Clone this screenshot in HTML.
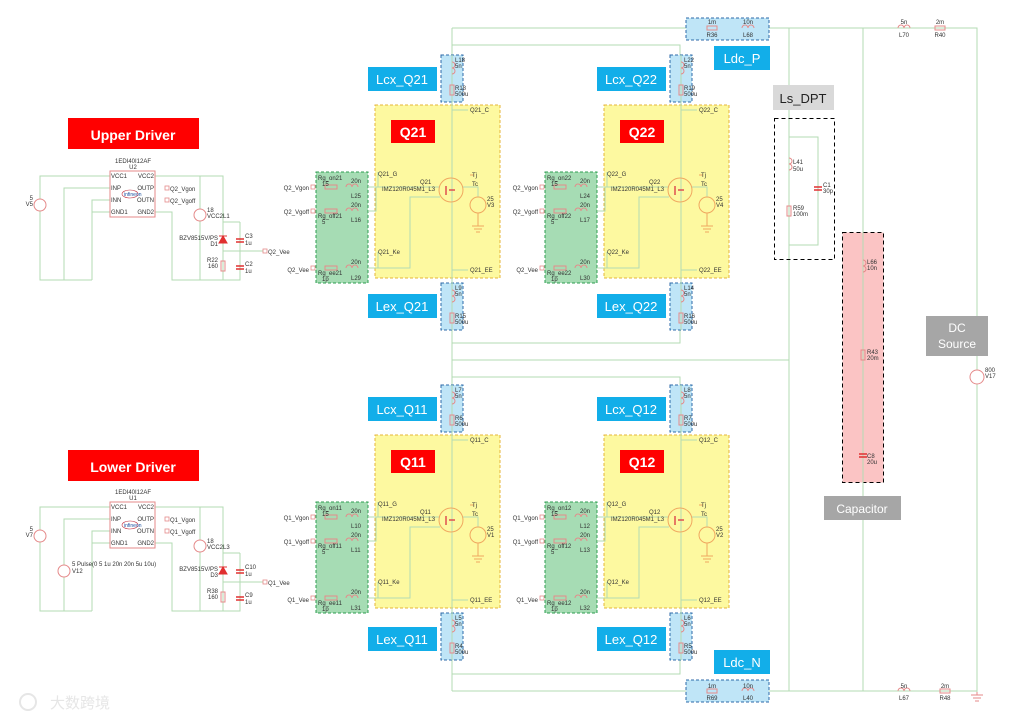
<!DOCTYPE html>
<html><head><meta charset="utf-8"><style>
html,body{margin:0;padding:0;background:#fff;}
svg{display:block;font-family:"Liberation Sans",sans-serif;}
.t{font-size:6px;fill:#333;}
.w{stroke:#b3dbb3;stroke-width:1;fill:none;}
.c{stroke:#e58a8a;stroke-width:1;fill:none;}
.lb{font-size:13px;fill:#fff;text-anchor:middle;}
.rd{font-size:14px;fill:#fff;text-anchor:middle;font-weight:bold;}
.gr{font-size:12px;fill:#fff;text-anchor:middle;}
.pin{fill:#fff;stroke:#e58a8a;stroke-width:.8;}
</style></head><body>
<svg width="1019" height="720" viewBox="0 0 1019 720" xmlns="http://www.w3.org/2000/svg">
<rect width="1019" height="720" fill="#fff"/>

<!-- ===== main power wires ===== -->
<path class="w" d="M452 28 H977 V692 M452 28 V55 M452 45 H680 V55 M452 691 H977 M452 660 V691 M452 674 H680 V660 M452 330 V385 M452 343 H680 V330 M452 360 H789 M452 377 H680 V385 M789 28 V691 M863 28 V691 M789 137 H818 V245 H789"/>

<!-- Ldc_P -->
<rect x="686" y="18" width="83" height="22" fill="#bfe5f7" stroke="#2c6aa8" stroke-dasharray="3,2"/>
<rect x="707" y="26" width="10" height="4" class="c"/><text class="t" x="712" y="24" text-anchor="middle">1m</text><text class="t" x="712" y="37" text-anchor="middle">R36</text>
<path class="c" d="M742 28 a3 3 0 0 1 6 0 a3 3 0 0 1 6 0"/><text class="t" x="748" y="24" text-anchor="middle">10n</text><text class="t" x="748" y="37" text-anchor="middle">L68</text>
<rect x="714" y="46" width="56" height="24" fill="#12aee9"/><text class="lb" x="742" y="63">Ldc_P</text>
<path class="c" d="M898 28 a3 3 0 0 1 6 0 a3 3 0 0 1 6 0"/><text class="t" x="904" y="24" text-anchor="middle">5n</text><text class="t" x="904" y="37" text-anchor="middle">L70</text>
<rect x="935" y="26" width="10" height="4" class="c"/><text class="t" x="940" y="24" text-anchor="middle">2m</text><text class="t" x="940" y="37" text-anchor="middle">R40</text>

<!-- Ldc_N -->
<rect x="686" y="680" width="83" height="22" fill="#bfe5f7" stroke="#2c6aa8" stroke-dasharray="3,2"/>
<rect x="707" y="689" width="10" height="4" class="c"/><text class="t" x="712" y="688" text-anchor="middle">1m</text><text class="t" x="712" y="700" text-anchor="middle">R69</text>
<path class="c" d="M742 691 a3 3 0 0 1 6 0 a3 3 0 0 1 6 0"/><text class="t" x="748" y="688" text-anchor="middle">10n</text><text class="t" x="748" y="700" text-anchor="middle">L40</text>
<rect x="714" y="650" width="56" height="24" fill="#12aee9"/><text class="lb" x="742" y="667">Ldc_N</text>
<path class="c" d="M898 691 a3 3 0 0 1 6 0 a3 3 0 0 1 6 0"/><text class="t" x="904" y="688" text-anchor="middle">5n</text><text class="t" x="904" y="700" text-anchor="middle">L67</text>
<rect x="940" y="689" width="10" height="4" class="c"/><text class="t" x="945" y="688" text-anchor="middle">2m</text><text class="t" x="945" y="700" text-anchor="middle">R48</text>
<path class="c" d="M977 692 V695 M971 695 H983 M973 698 H981 M975 701 H979"/>

<!-- Ls_DPT -->
<rect x="773" y="85" width="61" height="25" fill="#d9d9d9"/><text x="803" y="103" font-size="13" fill="#222" text-anchor="middle">Ls_DPT</text>
<rect x="774.5" y="118.5" width="60" height="141" fill="none" stroke="#000" stroke-dasharray="4,3"/>
<path class="c" d="M789 158 a3 3 0 0 1 0 6 a3 3 0 0 1 0 6"/><text class="t" x="793" y="164">L41</text><text class="t" x="793" y="171">50u</text>
<rect x="787" y="206" width="4" height="10" class="c"/><text class="t" x="793" y="210">R59</text><text class="t" x="793" y="216">100m</text>
<path d="M814 187 H822 M814 190 H822" stroke="#e03030" stroke-width="1.5"/><text class="t" x="823" y="187">C1</text><text class="t" x="823" y="193">30p</text>

<!-- Capacitor -->
<rect x="842.5" y="232.5" width="41" height="250" fill="#fbc4c4" stroke="#000" stroke-dasharray="4,3"/>
<path class="w" d="M863 232 V483"/>
<path class="c" d="M863 260 a3 3 0 0 1 0 6 a3 3 0 0 1 0 6"/><text class="t" x="867" y="264">L66</text><text class="t" x="867" y="270">10n</text>
<rect x="861" y="350" width="4" height="10" class="c"/><text class="t" x="867" y="354">R43</text><text class="t" x="867" y="360">20m</text>
<path d="M859 454 H867 M859 457 H867" stroke="#e03030" stroke-width="1.5"/><text class="t" x="867" y="458">C8</text><text class="t" x="867" y="464">20u</text>
<rect x="824" y="496" width="77" height="24" fill="#a6a6a6"/><text class="gr" x="862" y="513" font-size="13">Capacitor</text>

<!-- DC source -->
<rect x="926" y="316" width="62" height="40" fill="#a6a6a6"/><text class="gr" x="957" y="332">DC</text><text class="gr" x="957" y="348">Source</text>
<circle cx="977" cy="377" r="7" fill="#fff" stroke="#e58a8a"/><text class="t" x="985" y="372">800</text><text class="t" x="985" y="378">V17</text>

<!-- ===== Q cells ===== -->
<g id="q21">
<rect x="316" y="172" width="52" height="111" fill="#a6dcb4" stroke="#2e9e50" stroke-dasharray="3,2"/>
<rect x="375" y="105" width="125" height="173" fill="#fdf9a0" stroke="#e5b53a" stroke-dasharray="3,2"/>
<rect x="441" y="55" width="22" height="47" fill="#bfe5f7" stroke="#2c6aa8" stroke-dasharray="3,2"/>
<rect x="441" y="283" width="22" height="47" fill="#bfe5f7" stroke="#2c6aa8" stroke-dasharray="3,2"/>
<path class="w" d="M452 55 V330 M452 110 H468 M452 270 H468 M368 187 H440 M368 211 H376 V187 M368 268 H410 V197 H440 M378 172 V187 M378 252 V268 M462 187 H478 V197"/>
<circle cx="451" cy="190" r="12" fill="none" stroke="#f0a860"/>
<path d="M446 186 V195 M449 190 H455" stroke="#e05050" stroke-width="1.5"/>
<circle cx="478" cy="205" r="8" fill="none" stroke="#f0a860"/>
<path d="M478 213 V226 M472 226 H484 M474 229 H482 M476 232 H480 M470 175 H474" stroke="#f0a860" fill="none"/>
<path class="c" d="M452 62 a3 3 0 0 1 0 6 a3 3 0 0 1 0 6"/><rect x="450" y="85" width="4" height="10" class="c"/>
<path class="c" d="M452 290 a3 3 0 0 1 0 6 a3 3 0 0 1 0 6"/><rect x="450" y="313" width="4" height="10" class="c"/>
<rect x="325" y="185" width="12" height="4" class="c"/><rect x="325" y="209" width="12" height="4" class="c"/><rect x="325" y="266" width="12" height="4" class="c"/>
<path class="c" d="M346 187 a3 3 0 0 1 6 0 a3 3 0 0 1 6 0 M346 211 a3 3 0 0 1 6 0 a3 3 0 0 1 6 0 M346 268 a3 3 0 0 1 6 0 a3 3 0 0 1 6 0"/>
<rect x="311" y="185" width="4" height="4" class="pin"/><rect x="311" y="209" width="4" height="4" class="pin"/><rect x="311" y="266" width="4" height="4" class="pin"/>
<text class="t" x="309" y="190" text-anchor="end">Q2_Vgon</text><text class="t" x="309" y="214" text-anchor="end">Q2_Vgoff</text><text class="t" x="309" y="272" text-anchor="end">Q2_Vee</text>
<text class="t" x="318" y="180">Rg_on21</text><text class="t" x="322" y="186">15</text><text class="t" x="351" y="183">20n</text><text class="t" x="351" y="198">L25</text>
<text class="t" x="318" y="218">Rg_off21</text><text class="t" x="322" y="224">5</text><text class="t" x="351" y="207">20n</text><text class="t" x="351" y="222">L16</text>
<text class="t" x="318" y="275">Rg_ee21</text><text class="t" x="322" y="281">1p</text><text class="t" x="351" y="264">20n</text><text class="t" x="351" y="280">L29</text>
<text class="t" x="470" y="112">Q21_C</text><text class="t" x="378" y="176">Q21_G</text><text class="t" x="378" y="254">Q21_Ke</text><text class="t" x="470" y="272">Q21_EE</text>
<text class="t" x="420" y="184">Q21</text><text class="t" x="382" y="191">IMZ120R045M1_L3</text>
<text class="t" x="472" y="177">Tj</text><text class="t" x="472" y="186">Tc</text><text class="t" x="487" y="201">25</text><text class="t" x="487" y="207">V3</text>
<text class="t" x="455" y="62">L18</text><text class="t" x="455" y="68">5n</text><text class="t" x="455" y="90">R18</text><text class="t" x="455" y="96">500u</text>
<text class="t" x="455" y="290">L9</text><text class="t" x="455" y="296">5n</text><text class="t" x="455" y="318">R15</text><text class="t" x="455" y="324">500u</text>
<rect x="391" y="120" width="44" height="23" fill="#f00"/><text class="rd" x="413" y="137" font-size="13">Q21</text>
<rect x="368" y="67" width="69" height="24" fill="#12aee9"/><text class="lb" x="402" y="84">Lcx_Q21</text>
<rect x="368" y="294" width="69" height="24" fill="#12aee9"/><text class="lb" x="402" y="311">Lex_Q21</text>
</g>

<g transform="translate(229,0)">
<rect x="316" y="172" width="52" height="111" fill="#a6dcb4" stroke="#2e9e50" stroke-dasharray="3,2"/>
<rect x="375" y="105" width="125" height="173" fill="#fdf9a0" stroke="#e5b53a" stroke-dasharray="3,2"/>
<rect x="441" y="55" width="22" height="47" fill="#bfe5f7" stroke="#2c6aa8" stroke-dasharray="3,2"/>
<rect x="441" y="283" width="22" height="47" fill="#bfe5f7" stroke="#2c6aa8" stroke-dasharray="3,2"/>
<path class="w" d="M452 55 V330 M452 110 H468 M452 270 H468 M368 187 H440 M368 211 H376 V187 M368 268 H410 V197 H440 M378 172 V187 M378 252 V268 M462 187 H478 V197"/>
<circle cx="451" cy="190" r="12" fill="none" stroke="#f0a860"/>
<path d="M446 186 V195 M449 190 H455" stroke="#e05050" stroke-width="1.5"/>
<circle cx="478" cy="205" r="8" fill="none" stroke="#f0a860"/>
<path d="M478 213 V226 M472 226 H484 M474 229 H482 M476 232 H480 M470 175 H474" stroke="#f0a860" fill="none"/>
<path class="c" d="M452 62 a3 3 0 0 1 0 6 a3 3 0 0 1 0 6"/><rect x="450" y="85" width="4" height="10" class="c"/>
<path class="c" d="M452 290 a3 3 0 0 1 0 6 a3 3 0 0 1 0 6"/><rect x="450" y="313" width="4" height="10" class="c"/>
<rect x="325" y="185" width="12" height="4" class="c"/><rect x="325" y="209" width="12" height="4" class="c"/><rect x="325" y="266" width="12" height="4" class="c"/>
<path class="c" d="M346 187 a3 3 0 0 1 6 0 a3 3 0 0 1 6 0 M346 211 a3 3 0 0 1 6 0 a3 3 0 0 1 6 0 M346 268 a3 3 0 0 1 6 0 a3 3 0 0 1 6 0"/>
<rect x="311" y="185" width="4" height="4" class="pin"/><rect x="311" y="209" width="4" height="4" class="pin"/><rect x="311" y="266" width="4" height="4" class="pin"/>
<text class="t" x="309" y="190" text-anchor="end">Q2_Vgon</text><text class="t" x="309" y="214" text-anchor="end">Q2_Vgoff</text><text class="t" x="309" y="272" text-anchor="end">Q2_Vee</text>
<text class="t" x="318" y="180">Rg_on22</text><text class="t" x="322" y="186">15</text><text class="t" x="351" y="183">20n</text><text class="t" x="351" y="198">L24</text>
<text class="t" x="318" y="218">Rg_off22</text><text class="t" x="322" y="224">5</text><text class="t" x="351" y="207">20n</text><text class="t" x="351" y="222">L17</text>
<text class="t" x="318" y="275">Rg_ee22</text><text class="t" x="322" y="281">1p</text><text class="t" x="351" y="264">20n</text><text class="t" x="351" y="280">L30</text>
<text class="t" x="470" y="112">Q22_C</text><text class="t" x="378" y="176">Q22_G</text><text class="t" x="378" y="254">Q22_Ke</text><text class="t" x="470" y="272">Q22_EE</text>
<text class="t" x="420" y="184">Q22</text><text class="t" x="382" y="191">IMZ120R045M1_L3</text>
<text class="t" x="472" y="177">Tj</text><text class="t" x="472" y="186">Tc</text><text class="t" x="487" y="201">25</text><text class="t" x="487" y="207">V4</text>
<text class="t" x="455" y="62">L22</text><text class="t" x="455" y="68">5n</text><text class="t" x="455" y="90">R19</text><text class="t" x="455" y="96">500u</text>
<text class="t" x="455" y="290">L14</text><text class="t" x="455" y="296">5n</text><text class="t" x="455" y="318">R16</text><text class="t" x="455" y="324">500u</text>
<rect x="391" y="120" width="44" height="23" fill="#f00"/><text class="rd" x="413" y="137" font-size="13">Q22</text>
<rect x="368" y="67" width="69" height="24" fill="#12aee9"/><text class="lb" x="402" y="84">Lcx_Q22</text>
<rect x="368" y="294" width="69" height="24" fill="#12aee9"/><text class="lb" x="402" y="311">Lex_Q22</text>
</g>

<g transform="translate(0,330)">
<rect x="316" y="172" width="52" height="111" fill="#a6dcb4" stroke="#2e9e50" stroke-dasharray="3,2"/>
<rect x="375" y="105" width="125" height="173" fill="#fdf9a0" stroke="#e5b53a" stroke-dasharray="3,2"/>
<rect x="441" y="55" width="22" height="47" fill="#bfe5f7" stroke="#2c6aa8" stroke-dasharray="3,2"/>
<rect x="441" y="283" width="22" height="47" fill="#bfe5f7" stroke="#2c6aa8" stroke-dasharray="3,2"/>
<path class="w" d="M452 55 V330 M452 110 H468 M452 270 H468 M368 187 H440 M368 211 H376 V187 M368 268 H410 V197 H440 M378 172 V187 M378 252 V268 M462 187 H478 V197"/>
<circle cx="451" cy="190" r="12" fill="none" stroke="#f0a860"/>
<path d="M446 186 V195 M449 190 H455" stroke="#e05050" stroke-width="1.5"/>
<circle cx="478" cy="205" r="8" fill="none" stroke="#f0a860"/>
<path d="M478 213 V226 M472 226 H484 M474 229 H482 M476 232 H480 M470 175 H474" stroke="#f0a860" fill="none"/>
<path class="c" d="M452 62 a3 3 0 0 1 0 6 a3 3 0 0 1 0 6"/><rect x="450" y="85" width="4" height="10" class="c"/>
<path class="c" d="M452 290 a3 3 0 0 1 0 6 a3 3 0 0 1 0 6"/><rect x="450" y="313" width="4" height="10" class="c"/>
<rect x="325" y="185" width="12" height="4" class="c"/><rect x="325" y="209" width="12" height="4" class="c"/><rect x="325" y="266" width="12" height="4" class="c"/>
<path class="c" d="M346 187 a3 3 0 0 1 6 0 a3 3 0 0 1 6 0 M346 211 a3 3 0 0 1 6 0 a3 3 0 0 1 6 0 M346 268 a3 3 0 0 1 6 0 a3 3 0 0 1 6 0"/>
<rect x="311" y="185" width="4" height="4" class="pin"/><rect x="311" y="209" width="4" height="4" class="pin"/><rect x="311" y="266" width="4" height="4" class="pin"/>
<text class="t" x="309" y="190" text-anchor="end">Q1_Vgon</text><text class="t" x="309" y="214" text-anchor="end">Q1_Vgoff</text><text class="t" x="309" y="272" text-anchor="end">Q1_Vee</text>
<text class="t" x="318" y="180">Rg_on11</text><text class="t" x="322" y="186">15</text><text class="t" x="351" y="183">20n</text><text class="t" x="351" y="198">L10</text>
<text class="t" x="318" y="218">Rg_off11</text><text class="t" x="322" y="224">5</text><text class="t" x="351" y="207">20n</text><text class="t" x="351" y="222">L11</text>
<text class="t" x="318" y="275">Rg_ee11</text><text class="t" x="322" y="281">1p</text><text class="t" x="351" y="264">20n</text><text class="t" x="351" y="280">L31</text>
<text class="t" x="470" y="112">Q11_C</text><text class="t" x="378" y="176">Q11_G</text><text class="t" x="378" y="254">Q11_Ke</text><text class="t" x="470" y="272">Q11_EE</text>
<text class="t" x="420" y="184">Q11</text><text class="t" x="382" y="191">IMZ120R045M1_L3</text>
<text class="t" x="472" y="177">Tj</text><text class="t" x="472" y="186">Tc</text><text class="t" x="487" y="201">25</text><text class="t" x="487" y="207">V1</text>
<text class="t" x="455" y="62">L7</text><text class="t" x="455" y="68">5n</text><text class="t" x="455" y="90">R6</text><text class="t" x="455" y="96">500u</text>
<text class="t" x="455" y="290">L5</text><text class="t" x="455" y="296">5n</text><text class="t" x="455" y="318">R4</text><text class="t" x="455" y="324">500u</text>
<rect x="391" y="120" width="44" height="23" fill="#f00"/><text class="rd" x="413" y="137" font-size="13">Q11</text>
<rect x="368" y="67" width="69" height="24" fill="#12aee9"/><text class="lb" x="402" y="84">Lcx_Q11</text>
<rect x="368" y="297" width="69" height="24" fill="#12aee9"/><text class="lb" x="402" y="314">Lex_Q11</text>
</g>

<g transform="translate(229,330)">
<rect x="316" y="172" width="52" height="111" fill="#a6dcb4" stroke="#2e9e50" stroke-dasharray="3,2"/>
<rect x="375" y="105" width="125" height="173" fill="#fdf9a0" stroke="#e5b53a" stroke-dasharray="3,2"/>
<rect x="441" y="55" width="22" height="47" fill="#bfe5f7" stroke="#2c6aa8" stroke-dasharray="3,2"/>
<rect x="441" y="283" width="22" height="47" fill="#bfe5f7" stroke="#2c6aa8" stroke-dasharray="3,2"/>
<path class="w" d="M452 55 V330 M452 110 H468 M452 270 H468 M368 187 H440 M368 211 H376 V187 M368 268 H410 V197 H440 M378 172 V187 M378 252 V268 M462 187 H478 V197"/>
<circle cx="451" cy="190" r="12" fill="none" stroke="#f0a860"/>
<path d="M446 186 V195 M449 190 H455" stroke="#e05050" stroke-width="1.5"/>
<circle cx="478" cy="205" r="8" fill="none" stroke="#f0a860"/>
<path d="M478 213 V226 M472 226 H484 M474 229 H482 M476 232 H480 M470 175 H474" stroke="#f0a860" fill="none"/>
<path class="c" d="M452 62 a3 3 0 0 1 0 6 a3 3 0 0 1 0 6"/><rect x="450" y="85" width="4" height="10" class="c"/>
<path class="c" d="M452 290 a3 3 0 0 1 0 6 a3 3 0 0 1 0 6"/><rect x="450" y="313" width="4" height="10" class="c"/>
<rect x="325" y="185" width="12" height="4" class="c"/><rect x="325" y="209" width="12" height="4" class="c"/><rect x="325" y="266" width="12" height="4" class="c"/>
<path class="c" d="M346 187 a3 3 0 0 1 6 0 a3 3 0 0 1 6 0 M346 211 a3 3 0 0 1 6 0 a3 3 0 0 1 6 0 M346 268 a3 3 0 0 1 6 0 a3 3 0 0 1 6 0"/>
<rect x="311" y="185" width="4" height="4" class="pin"/><rect x="311" y="209" width="4" height="4" class="pin"/><rect x="311" y="266" width="4" height="4" class="pin"/>
<text class="t" x="309" y="190" text-anchor="end">Q1_Vgon</text><text class="t" x="309" y="214" text-anchor="end">Q1_Vgoff</text><text class="t" x="309" y="272" text-anchor="end">Q1_Vee</text>
<text class="t" x="318" y="180">Rg_on12</text><text class="t" x="322" y="186">15</text><text class="t" x="351" y="183">20n</text><text class="t" x="351" y="198">L12</text>
<text class="t" x="318" y="218">Rg_off12</text><text class="t" x="322" y="224">5</text><text class="t" x="351" y="207">20n</text><text class="t" x="351" y="222">L13</text>
<text class="t" x="318" y="275">Rg_ee12</text><text class="t" x="322" y="281">1p</text><text class="t" x="351" y="264">20n</text><text class="t" x="351" y="280">L32</text>
<text class="t" x="470" y="112">Q12_C</text><text class="t" x="378" y="176">Q12_G</text><text class="t" x="378" y="254">Q12_Ke</text><text class="t" x="470" y="272">Q12_EE</text>
<text class="t" x="420" y="184">Q12</text><text class="t" x="382" y="191">IMZ120R045M1_L3</text>
<text class="t" x="472" y="177">Tj</text><text class="t" x="472" y="186">Tc</text><text class="t" x="487" y="201">25</text><text class="t" x="487" y="207">V2</text>
<text class="t" x="455" y="62">L8</text><text class="t" x="455" y="68">5n</text><text class="t" x="455" y="90">R7</text><text class="t" x="455" y="96">500u</text>
<text class="t" x="455" y="290">L6</text><text class="t" x="455" y="296">5n</text><text class="t" x="455" y="318">R5</text><text class="t" x="455" y="324">500u</text>
<rect x="391" y="120" width="44" height="23" fill="#f00"/><text class="rd" x="413" y="137" font-size="13">Q12</text>
<rect x="368" y="67" width="69" height="24" fill="#12aee9"/><text class="lb" x="402" y="84">Lcx_Q12</text>
<rect x="368" y="297" width="69" height="24" fill="#12aee9"/><text class="lb" x="402" y="314">Lex_Q12</text>
</g>

<!-- ===== Drivers ===== -->
<g>
<rect x="68" y="118" width="131" height="31" fill="#f00"/><text class="rd" x="133" y="140" font-size="16">Upper Driver</text>
<path class="w" d="M110 176 H40 V280 H92 M110 188 H64 V280 M110 200 H92 V280 M110 212 H92 M155 176 H223 V222 H240 M200 176 V280 M155 212 H172 V280 H240 V222 M223 222 V280 M223 251 H263"/>
<rect x="110" y="171" width="45" height="46" fill="#fff" stroke="#e58a8a"/>
<text class="t" x="111" y="178">VCC1</text><text class="t" x="111" y="190">INP</text><text class="t" x="111" y="202">INN</text><text class="t" x="111" y="214">GND1</text>
<text class="t" x="154" y="178" text-anchor="end">VCC2</text><text class="t" x="154" y="190" text-anchor="end">OUTP</text><text class="t" x="154" y="202" text-anchor="end">OUTN</text><text class="t" x="154" y="214" text-anchor="end">GND2</text>
<ellipse cx="130" cy="194" rx="8" ry="4" fill="none" stroke="#c03040" stroke-width=".6"/><text x="124" y="196" font-size="5" fill="#1a4fa0">infineon</text>
<text class="t" x="133" y="163" text-anchor="middle">1EDI40I12AF</text><text class="t" x="133" y="169" text-anchor="middle">U2</text>
<rect x="165" y="186" width="4" height="4" class="pin"/><rect x="165" y="198" width="4" height="4" class="pin"/>
<text class="t" x="170" y="191">Q2_Vgon</text><text class="t" x="170" y="203">Q2_Vgoff</text>
<circle cx="40" cy="205" r="6" fill="#fff" stroke="#e58a8a"/><text class="t" x="33" y="200" text-anchor="end">5</text><text class="t" x="33" y="206" text-anchor="end">V5</text>
<circle cx="200" cy="215" r="6" fill="#fff" stroke="#e58a8a"/><text class="t" x="207" y="212">18</text><text class="t" x="207" y="218">VCC2L1</text>
<path d="M219 236 H227 M223 236 L219 243 H227 Z" stroke="#e03030" fill="#e03030"/><text class="t" x="218" y="240" text-anchor="end">BZV8515V/PS</text><text class="t" x="218" y="246" text-anchor="end">D1</text>
<rect x="221" y="261" width="4" height="10" class="c" fill="#fff"/><text class="t" x="218" y="262" text-anchor="end">R22</text><text class="t" x="218" y="268" text-anchor="end">160</text>
<path d="M236 239 H244 M236 242 H244 M236 266 H244 M236 269 H244" stroke="#e03030" stroke-width="1.5"/>
<text class="t" x="245" y="238">C3</text><text class="t" x="245" y="245">1u</text><text class="t" x="245" y="266">C2</text><text class="t" x="245" y="273">1u</text>
<rect x="263" y="249" width="4" height="4" class="pin"/><text class="t" x="268" y="254">Q2_Vee</text>
</g>

<g>
<rect x="68" y="450" width="131" height="31" fill="#f00"/><text class="rd" x="133" y="472" font-size="16">Lower Driver</text>
<g transform="translate(0,331)">
<path class="w" d="M110 176 H40 V280 H92 M110 188 H64 V280 M110 200 H92 V280 M110 212 H92 M155 176 H223 V222 H240 M200 176 V280 M155 212 H172 V280 H240 V222 M223 222 V280 M223 251 H263"/>
<rect x="110" y="171" width="45" height="46" fill="#fff" stroke="#e58a8a"/>
<text class="t" x="111" y="178">VCC1</text><text class="t" x="111" y="190">INP</text><text class="t" x="111" y="202">INN</text><text class="t" x="111" y="214">GND1</text>
<text class="t" x="154" y="178" text-anchor="end">VCC2</text><text class="t" x="154" y="190" text-anchor="end">OUTP</text><text class="t" x="154" y="202" text-anchor="end">OUTN</text><text class="t" x="154" y="214" text-anchor="end">GND2</text>
<ellipse cx="130" cy="194" rx="8" ry="4" fill="none" stroke="#c03040" stroke-width=".6"/><text x="124" y="196" font-size="5" fill="#1a4fa0">infineon</text>
<text class="t" x="133" y="163" text-anchor="middle">1EDI40I12AF</text><text class="t" x="133" y="169" text-anchor="middle">U1</text>
<rect x="165" y="186" width="4" height="4" class="pin"/><rect x="165" y="198" width="4" height="4" class="pin"/>
<text class="t" x="170" y="191">Q1_Vgon</text><text class="t" x="170" y="203">Q1_Vgoff</text>
<circle cx="40" cy="205" r="6" fill="#fff" stroke="#e58a8a"/><text class="t" x="33" y="200" text-anchor="end">5</text><text class="t" x="33" y="206" text-anchor="end">V7</text>
<circle cx="64" cy="240" r="6" fill="#fff" stroke="#e58a8a"/><text class="t" x="72" y="235">5 Pulse(0 5 1u 20n 20n 5u 10u)</text><text class="t" x="72" y="242">V12</text>
<circle cx="200" cy="215" r="6" fill="#fff" stroke="#e58a8a"/><text class="t" x="207" y="212">18</text><text class="t" x="207" y="218">VCC2L3</text>
<path d="M219 236 H227 M223 236 L219 243 H227 Z" stroke="#e03030" fill="#e03030"/><text class="t" x="218" y="240" text-anchor="end">BZV8515V/PS</text><text class="t" x="218" y="246" text-anchor="end">D3</text>
<rect x="221" y="261" width="4" height="10" class="c" fill="#fff"/><text class="t" x="218" y="262" text-anchor="end">R38</text><text class="t" x="218" y="268" text-anchor="end">160</text>
<path d="M236 239 H244 M236 242 H244 M236 266 H244 M236 269 H244" stroke="#e03030" stroke-width="1.5"/>
<text class="t" x="245" y="238">C10</text><text class="t" x="245" y="245">1u</text><text class="t" x="245" y="266">C9</text><text class="t" x="245" y="273">1u</text>
<rect x="263" y="249" width="4" height="4" class="pin"/><text class="t" x="268" y="254">Q1_Vee</text>
</g>
</g>

<!-- watermark -->
<text x="50" y="708" font-size="15" fill="#e6e6e6" font-family="'Liberation Sans','Noto Sans CJK SC',sans-serif">大数跨境</text>
<circle cx="28" cy="702" r="8" fill="none" stroke="#e6e6e6" stroke-width="2"/>
</svg>
</body></html>
